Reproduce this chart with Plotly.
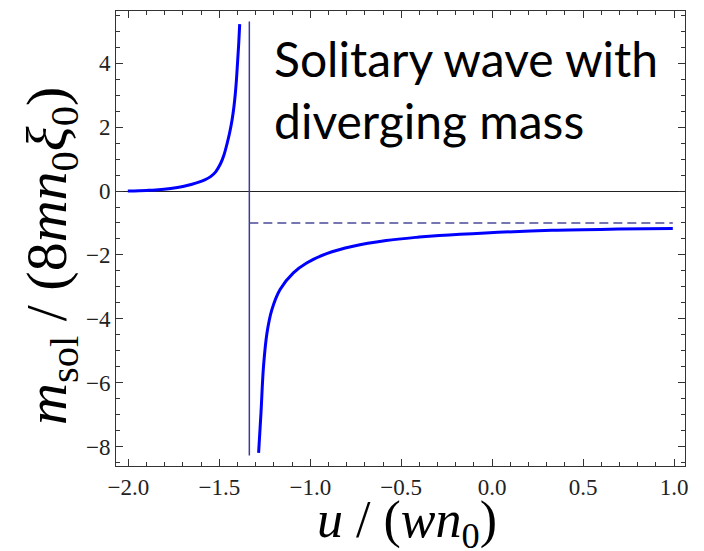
import plotly.graph_objects as go

# Left branch of the curve (u, m)
left_u = [-2.003, -1.90, -1.85, -1.767, -1.70, -1.65, -1.621, -1.58, -1.548, -1.52, -1.493,
          -1.475, -1.457, -1.443, -1.430, -1.420, -1.412, -1.405, -1.399, -1.393, -1.388]
left_m = [0.0, 0.02, 0.035, 0.08, 0.14, 0.21, 0.26, 0.35, 0.45, 0.60, 0.86,
          1.12, 1.49, 1.83, 2.22, 2.62, 3.05, 3.55, 4.09, 4.65, 5.22]

# Right branch of the curve (u, m)
right_u = [-1.284, -1.271, -1.257, -1.238, -1.211, -1.166, -1.093, -1.020, -0.910, -0.765,
           -0.583, -0.401, -0.291, -0.036, 0.328, 0.692, 0.993]
right_m = [-8.19, -6.94, -5.48, -4.44, -3.71, -3.08, -2.56, -2.25, -1.96, -1.73,
           -1.55, -1.44, -1.39, -1.31, -1.23, -1.19, -1.17]

# Reference lines
pole_u = -1.335
pole_m = [5.30, -8.27]
asym_m = -1.0
asym_u = [-1.335, 0.993]

x_ticks = [-2.0, -1.5, -1.0, -0.5, 0.0, 0.5, 1.0]
y_ticks = [-8, -6, -4, -2, 0, 2, 4]

serif = "Liberation Serif, Times New Roman, Times, serif"

W, H = 704, 551
L, R, T, B = 116, 19, 11, 85
pw, ph = W - L - R, H - T - B


def px_to_paper(px, py):
    return (px - L) / pw, (H - B - py) / ph


fig = go.Figure()
fig.add_trace(go.Scatter(x=[pole_u, pole_u], y=pole_m, mode="lines",
                         line=dict(color="#3c3c96", width=1.5), showlegend=False))
fig.add_trace(go.Scatter(x=asym_u, y=[asym_m, asym_m], mode="lines",
                         line=dict(color="#4a4a9a", width=1.5, dash="9px,5px"), showlegend=False))
fig.add_trace(go.Scatter(x=left_u, y=left_m, mode="lines", line_shape="spline",
                         line=dict(color="#0000ff", width=3), showlegend=False))
fig.add_trace(go.Scatter(x=right_u, y=right_m, mode="lines", line_shape="spline",
                         line=dict(color="#0000ff", width=3), showlegend=False))

fig.add_annotation(text="Solitary wave with<br>diverging mass", x=0.274, y=0.962,
                   xref="paper", yref="paper", xanchor="left", yanchor="top",
                   align="left", showarrow=False,
                   font=dict(family="Lato", size=48, color="black"))

# Axis titles as annotations for precise placement
xt_x, xt_y = px_to_paper(407, 523)
fig.add_annotation(text="<i>u</i> / (<i>wn</i><sub>0</sub>)", x=xt_x, y=xt_y,
                   xref="paper", yref="paper", xanchor="center", yanchor="middle",
                   showarrow=False, font=dict(family=serif, size=52, color="black"))
yt_x, yt_y = px_to_paper(50, 256)
fig.add_annotation(text="<i>m</i><sub>sol</sub> / (8<i>mn</i><sub>0</sub><i>ξ</i><sub>0</sub>)",
                   x=yt_x, y=yt_y, xref="paper", yref="paper",
                   xanchor="center", yanchor="middle", showarrow=False, textangle=-90,
                   font=dict(family=serif, size=58, color="black"))

tickfont = dict(family=serif, size=23, color="#222")
fig.update_layout(
    width=W, height=H,
    margin=dict(l=L, r=R, t=T, b=B),
    paper_bgcolor="white", plot_bgcolor="white",
    font=dict(family=serif, size=23, color="#222"),
    xaxis=dict(range=[-2.068, 1.06], tickvals=x_ticks,
               ticktext=[f"{v:.1f}".replace("-", "\u2212") for v in x_ticks],
               tickfont=tickfont,
               ticks="inside", ticklen=7, tickcolor="#333", mirror="ticks",
               showline=True, linecolor="#333", linewidth=1,
               showgrid=False, zeroline=False,
               minor=dict(dtick=0.1, ticks="inside", ticklen=4, tickcolor="#333", showgrid=False)),
    yaxis=dict(range=[-8.6, 5.63], tickvals=y_ticks,
               ticktext=[str(v).replace("-", "\u2212") for v in y_ticks],
               tickfont=tickfont,
               ticks="inside", ticklen=7, tickcolor="#333", mirror="ticks",
               showline=True, linecolor="#333", linewidth=1,
               showgrid=False, zeroline=True, zerolinecolor="#222", zerolinewidth=1,
               minor=dict(dtick=0.5, ticks="inside", ticklen=4, tickcolor="#333", showgrid=False)),
)

fig.write_html("out.html")
